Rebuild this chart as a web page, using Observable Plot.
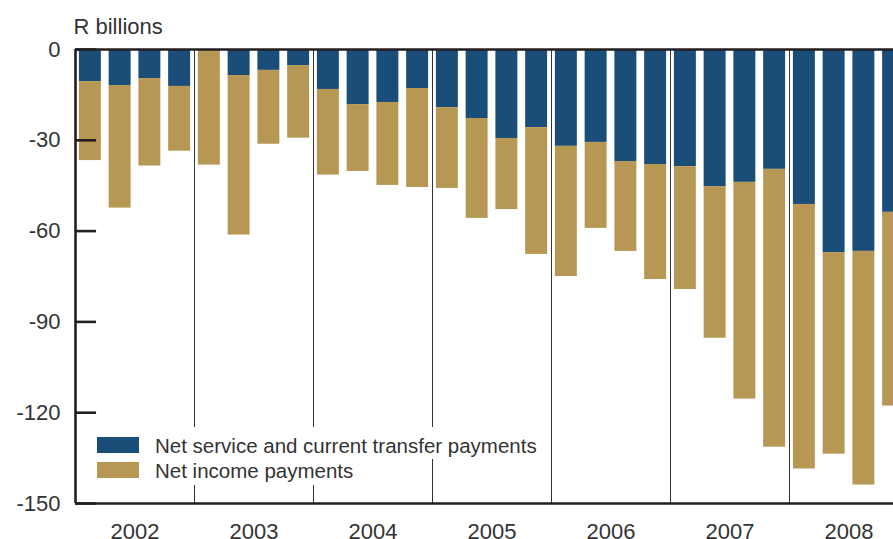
<!DOCTYPE html>
<html>
<head>
<meta charset="utf-8">
<script src="https://cdn.jsdelivr.net/npm/d3@7"></script>
<script src="https://cdn.jsdelivr.net/npm/@observablehq/plot@0.6"></script>
<style>
  html, body { margin: 0; padding: 0; overflow: hidden; background: #fff; }
  #wrap { position: relative; width: 893px; height: 539px; overflow: hidden; }
  #wrap svg { max-width: none !important; width: 908px; height: 539px; display: block; }
  .bg { position: absolute; background: #fff; }
  .sw { position: absolute; width: 42px; height: 16px; }
  .lt { position: absolute; font-family: "Liberation Sans", Arial, sans-serif; font-size: 20.5px; line-height: 20px; color: #333; white-space: nowrap; }
</style>
</head>
<body>
<div id="wrap"></div>
<script>
// ---- data (R billions, quarterly) ----
const years = [2002, 2003, 2004, 2005, 2006, 2007, 2008];
const quarters = [1, 2, 3, 4];
const seriesNames = ["Net service and current transfer payments", "Net income payments"];
const seriesColors = ["#1a4d77", "#b69854"];
// Net service and current transfer payments (negative = outflow)
const serviceTransfer = [
  -10.6, -11.9, -9.6, -12.2,
  -0.3, -8.6, -6.9, -5.3,
  -13.2, -18.2, -17.5, -12.9,
  -19.2, -22.8, -29.4, -25.8,
  -32.0, -30.7, -37.0, -38.0,
  -38.7, -45.3, -43.9, -39.6,
  -51.2, -67.1, -66.7, -53.8
];
// Net income payments
const incomePayments = [
  -26.1, -40.5, -28.9, -21.4,
  -37.9, -52.7, -24.4, -24.0,
  -28.3, -22.1, -27.4, -32.7,
  -26.7, -33.0, -23.5, -41.9,
  -43.0, -28.4, -29.7, -38.0,
  -40.6, -50.1, -71.6, -91.8,
  -87.4, -66.6, -77.2, -64.0
];
const yTicks = [0, -30, -60, -90, -120, -150];

// ---- build table ----
const rows = [];
years.forEach((yr, yi) => {
  quarters.forEach((q, qi) => {
    const i = yi * 4 + qi;
    const s = serviceTransfer[i], inc = incomePayments[i];
    const x1 = yr + (q - 1) / 4, x2 = yr + q / 4;
    rows.push({series: seriesNames[0], x1, x2, y1: 0, y2: s});
    rows.push({series: seriesNames[1], x1, x2, y1: s, y2: s + inc});
  });
});
const tickRows = yTicks.map(v => ({v}));

const font = "Liberation Sans, Arial, sans-serif";
const ink = "#333";

const chart = Plot.plot({
  width: 908,
  height: 539,
  marginLeft: 75,
  marginRight: 0,
  marginTop: 49,
  marginBottom: 36,
  style: {fontFamily: font, color: ink, background: "#fff", maxWidth: "none"},
  x: {domain: [years[0], years[years.length - 1] + 1], axis: null},
  y: {domain: [-150, 0], axis: null},
  color: {domain: seriesNames, range: seriesColors},
  marks: [
    Plot.rect(rows, {x1: "x1", x2: "x2", y1: "y1", y2: "y2", fill: "series", insetLeft: 3.9, insetRight: 3.9}),
    Plot.ruleX(years.slice(1), {stroke: "#333", strokeWidth: 1}),
    Plot.ruleY([0, -150], {stroke: "#231f20", strokeWidth: 2.6}),
    Plot.ruleX([years[0]], {stroke: "#231f20", strokeWidth: 2.6}),
    // inward tick marks on the left axis (about 21px long)
    Plot.ruleY(tickRows, {y: "v", x1: () => years[0], x2: () => years[0] + 0.177, stroke: "#231f20", strokeWidth: 2.6}),
    Plot.axisY({ticks: yTicks, tickSize: 0, tickPadding: 15, fontSize: 22, fill: ink, tickFormat: d => d === 0 ? "0" : String(d)}),
    Plot.text(years, {x: d => d + 0.5, frameAnchor: "bottom", lineAnchor: "bottom", dy: 35, text: d => String(d), fontSize: 22, fill: ink}),
    Plot.text(["R billions"], {frameAnchor: "top-left", textAnchor: "start", lineAnchor: "bottom", dx: -2, dy: -16, fontSize: 22, fill: ink})
  ]
});

const wrap = document.getElementById("wrap");
wrap.appendChild(chart);

// legend overlay (white boxes hide the year dividers behind it)
const legendHTML = `
  <div class="bg" style="left:95px;top:427px;width:449px;height:32px"></div>
  <div class="bg" style="left:95px;top:459px;width:266px;height:26px"></div>
  <div class="sw" style="left:97px;top:437px;background:${seriesColors[0]}"></div>
  <div class="sw" style="left:97px;top:462px;background:${seriesColors[1]}"></div>
  <div class="lt" style="left:155px;top:436px">${seriesNames[0]}</div>
  <div class="lt" style="left:155px;top:461px">${seriesNames[1]}</div>
`;
const lg = document.createElement("div");
lg.innerHTML = legendHTML;
wrap.appendChild(lg);
</script>
</body>
</html>
